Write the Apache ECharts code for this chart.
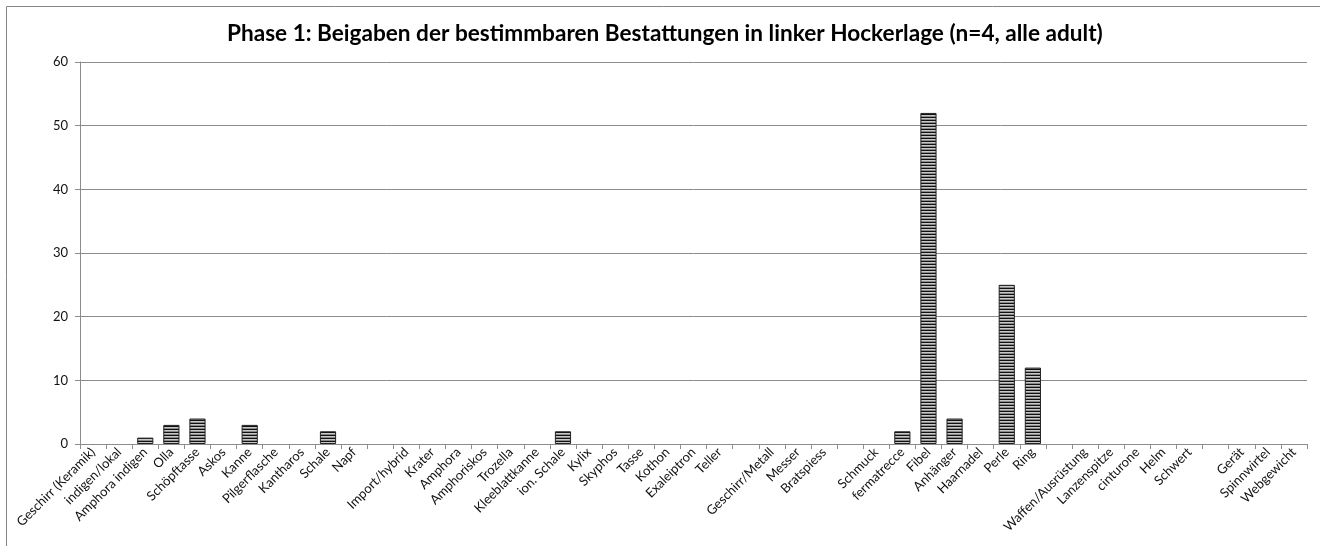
<!DOCTYPE html>
<html><head><meta charset="utf-8">
<script src="https://cdn.jsdelivr.net/npm/echarts@6/dist/echarts.min.js"></script>
<style>html,body{margin:0;padding:0;background:#fff}#c{width:1320px;height:546px}</style>
</head><body><div id="c"></div>
<script>
const titleText = 'Phase 1: Beigaben der bestimmbaren Bestattungen in linker Hockerlage (n=4, alle adult)';
const categories = ['Geschirr (Keramik)','indigen/lokal','Amphora indigen','Olla','Schöpftasse','Askos','Kanne','Pilgerflasche','Kantharos','Schale','Napf','','Import/hybrid','Krater','Amphora','Amphoriskos','Trozella','Kleeblattkanne','ion. Schale','Kylix','Skyphos','Tasse','Kothon','Exaleiptron','Teller','','Geschirr/Metall','Messer','Bratspiess','','Schmuck','fermatrecce','Fibel','Anhänger','Haarnadel','Perle','Ring','','Waffen/Ausrüstung','Lanzenspitze','cinturone','Helm','Schwert','','Gerät','Spinnwirtel','Webgewicht'];
const values = [null,null,1,3,4,null,3,null,null,2,null,null,null,null,null,null,null,null,2,null,null,null,null,null,null,null,null,null,null,null,null,2,52,4,null,25,12,null,null,null,null,null,null,null,null,null,null];
const yTicks = [0,10,20,30,40,50,60];

const pc = document.createElement('canvas');
pc.width = 4; pc.height = 3;
const g = pc.getContext('2d');
g.fillStyle = '#c8c8c8'; g.fillRect(0,0,4,3);
g.fillStyle = '#111'; g.fillRect(0,0,4,1);
g.fillStyle = '#8a8a8a'; g.fillRect(0,2,4,1);

const chart = echarts.init(document.getElementById('c'), null, {renderer:'canvas'});
const font = 'Lato, "Open Sans", sans-serif';
chart.setOption({
  animation:false,
  backgroundColor:'#fff',
  title:{text:titleText,left:222,top:17,textStyle:{fontFamily:font,fontWeight:'bold',fontSize:22.6,color:'#000'}},
  graphic:[{type:'rect',shape:{x:6.5,y:6.5,width:1330,height:560},style:{fill:'none',stroke:'#868686',lineWidth:1},silent:true,z:-1}],
  grid:{left:80,right:13,top:62,bottom:102,containLabel:false},
  xAxis:{type:'category',data:categories,boundaryGap:true,
    axisLine:{lineStyle:{color:'#8c8c8c'}},
    axisTick:{show:true,alignWithLabel:false,length:5,lineStyle:{color:'#8c8c8c'}},
    axisLabel:{interval:0,rotate:45,fontFamily:font,fontSize:13,color:'#111',margin:6}},
  yAxis:{type:'value',min:yTicks[0],max:yTicks[yTicks.length-1],interval:10,
    axisLine:{show:true,lineStyle:{color:'#8c8c8c'}},
    axisTick:{show:true,length:5,lineStyle:{color:'#8c8c8c'}},
    splitLine:{lineStyle:{color:'#8c8c8c'}},
    axisLabel:{fontFamily:font,fontSize:13,color:'#111',margin:12}},
  series:[{type:'bar',data:values,barWidth:'62%',
    itemStyle:{color:{image:pc,repeat:'repeat'},borderColor:'#222',borderWidth:1}}]
});
</script></body></html>
